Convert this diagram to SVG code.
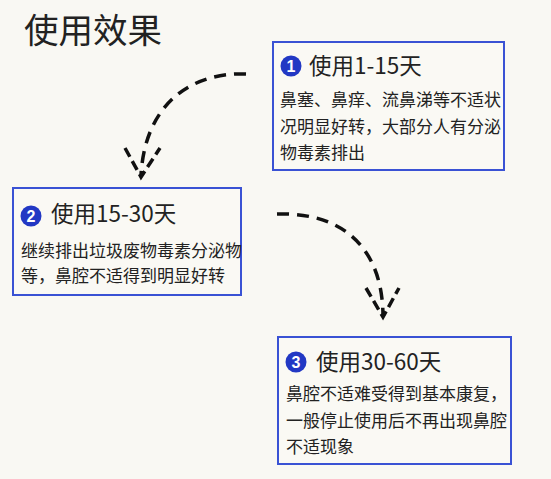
<svg xmlns="http://www.w3.org/2000/svg" width="551" height="479" viewBox="0 0 551 479">
<style>
text{font-family:"Noto Sans CJK SC","Noto Sans",sans-serif;fill:#222;}
.box{fill:#faf9f4;stroke:#3a52d4;stroke-width:2;}
.ttl{font-size:22.5px;}
.body{font-size:17px;}
.num{fill:#fff;font-size:16px;font-weight:bold;font-family:"Liberation Sans",Arial,sans-serif;}
.dot{fill:#2238c4;}
.arr{fill:none;stroke:#111;stroke-width:3.5;stroke-dasharray:12 8;}
.head{fill:none;stroke:#111;stroke-width:3.5;stroke-dasharray:10 5;}
</style>
<rect width="551" height="479" fill="#f9f8f3"/>
<text x="24" y="43" style="font-size:34.5px">使用效果</text>
<g id="connectors">
<path class="arr" d="M246,74 C190,72 145,105 141,175"/>
<path class="head" d="M125,148 L141,177 L160,148"/>
<path class="arr" d="M277,214 C345,212 383,250 383,317"/>
<path class="head" d="M366,288 L383,317 L399,288"/>
</g>
<g id="node1">
<rect class="box" x="273" y="42" width="231" height="128"/>
<circle class="dot" cx="291" cy="66" r="10.5"/>
<text class="num" x="291" y="71.5" text-anchor="middle">1</text>
<text class="ttl" x="309" y="74">使用1-15天</text>
<text class="body" x="280" y="106">鼻塞、鼻痒、流鼻涕等不适状</text>
<text class="body" x="280" y="133">况明显好转，大部分人有分泌</text>
<text class="body" x="280" y="159">物毒素排出</text>
</g>
<g id="node2">
<rect class="box" x="13" y="188" width="228" height="107"/>
<circle class="dot" cx="31" cy="216" r="10.5"/>
<text class="num" x="31" y="221.5" text-anchor="middle">2</text>
<text class="ttl" x="51" y="222">使用15-30天</text>
<text class="body" x="21" y="257">继续排出垃圾废物毒素分泌物</text>
<text class="body" x="21" y="282">等，鼻腔不适得到明显好转</text>
</g>
<g id="node3">
<rect class="box" x="278" y="337" width="233" height="127"/>
<circle class="dot" cx="296" cy="362" r="10.5"/>
<text class="num" x="296" y="367.5" text-anchor="middle">3</text>
<text class="ttl" x="316" y="370">使用30-60天</text>
<text class="body" x="286" y="400">鼻腔不适难受得到基本康复，</text>
<text class="body" x="286" y="427">一般停止使用后不再出现鼻腔</text>
<text class="body" x="286" y="453">不适现象</text>
</g>
</svg>
